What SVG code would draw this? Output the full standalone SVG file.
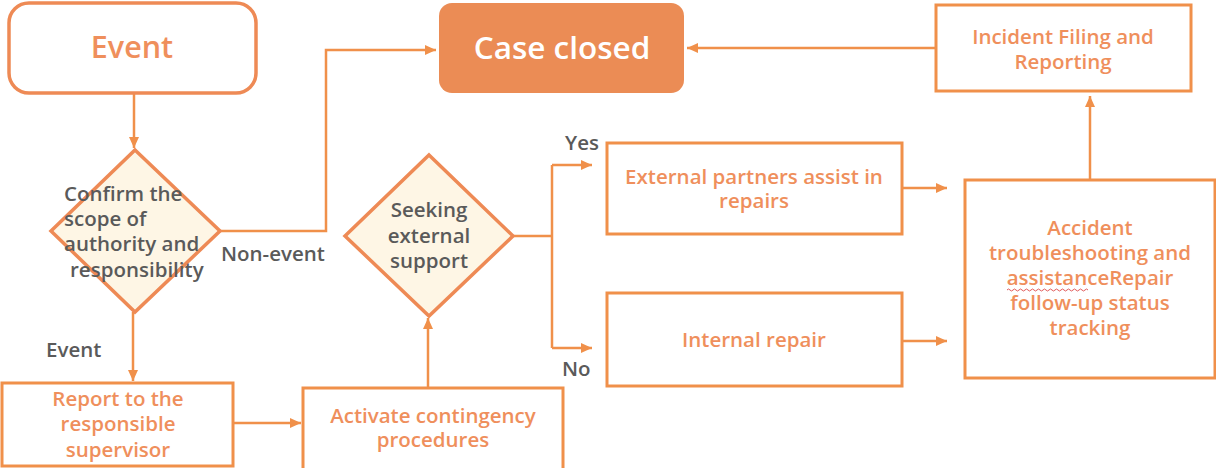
<svg xmlns="http://www.w3.org/2000/svg" width="1216" height="468" viewBox="0 0 1216 468">
<style>
.box{fill:#fff;stroke:#F0904A;stroke-width:3}
.dia{fill:#FEF6E5;stroke:#EE8A55;stroke-width:3.5}
.t{font-family:"Open Sans","Noto Sans",sans-serif;font-size:20.5px;font-weight:600;fill:#EF8F5C;text-anchor:middle}
.g{font-family:"Open Sans","Noto Sans",sans-serif;font-size:20.5px;font-weight:600;fill:#5A5A5A}
.c{fill:none;stroke:#F0904A;stroke-width:2.5}
</style>
<defs>
<marker id="ah" markerUnits="userSpaceOnUse" markerWidth="12" markerHeight="10" refX="11" refY="5" orient="auto">
<path d="M0,0 L11,5 L0,10 Z" fill="#F0904A"/>
</marker>
</defs>
<rect width="1216" height="468" fill="#fff"/>
<g id="connectors">
<path class="c" d="M134,92 V148" marker-end="url(#ah)"/>
<path class="c" d="M220,231 H326 V50 H436" marker-end="url(#ah)"/>
<path class="c" d="M133,312 V381" marker-end="url(#ah)"/>
<path class="c" d="M233,423 H301" marker-end="url(#ah)"/>
<path class="c" d="M428,388 V318" marker-end="url(#ah)"/>
<path class="c" d="M513,236 H552"/>
<path class="c" d="M552,165 V348"/>
<path class="c" d="M552,165 H592" marker-end="url(#ah)"/>
<path class="c" d="M552,348 H592" marker-end="url(#ah)"/>
<path class="c" d="M902,188 H947" marker-end="url(#ah)"/>
<path class="c" d="M902,341 H947" marker-end="url(#ah)"/>
<path class="c" d="M1090,180 V96" marker-end="url(#ah)"/>
<path class="c" d="M936,48 H687" marker-end="url(#ah)"/>
<text class="g" x="221" y="261">Non-event</text>
<text class="g" x="46" y="357">Event</text>
<text class="g" x="565" y="150">Yes</text>
<text class="g" x="562" y="376">No</text>
</g>
<g id="event">
<rect x="9" y="3" width="247" height="90" rx="20" fill="#fff" stroke="#EE8A55" stroke-width="3.5"/>
<text x="132" y="58" font-family="'Open Sans','Noto Sans',sans-serif" font-size="30.5" font-weight="600" fill="#EF8F5C" text-anchor="middle">Event</text>
</g>
<g id="case-closed">
<rect x="439" y="3" width="245" height="90" rx="13" fill="#EB8C55"/>
<text x="562" y="59" font-family="'Open Sans','Noto Sans',sans-serif" font-size="31.5" font-weight="600" fill="#fff" text-anchor="middle">Case closed</text>
</g>
<g id="confirm-scope">
<polygon class="dia" points="135,150 220,231 135,312 51,231"/>
<text class="g"><tspan x="64" y="201">Confirm the</tspan><tspan x="64" y="226">scope of</tspan><tspan x="64" y="251">authority and</tspan><tspan x="70" y="277">responsibility</tspan></text>
</g>
<g id="report-supervisor">
<rect class="box" x="2" y="383" width="231" height="83"/>
<text class="t"><tspan x="118" y="406">Report to the</tspan><tspan x="118" y="431">responsible</tspan><tspan x="118" y="457">supervisor</tspan></text>
</g>
<g id="activate-contingency">
<rect class="box" x="303" y="388" width="260" height="82"/>
<text class="t"><tspan x="433" y="423">Activate contingency</tspan><tspan x="433" y="447">procedures</tspan></text>
</g>
<g id="seeking-support">
<polygon class="dia" points="429,155 513,236 429,316 345,236"/>
<text class="g" text-anchor="middle"><tspan x="429" y="217">Seeking</tspan><tspan x="429" y="243">external</tspan><tspan x="429" y="268">support</tspan></text>
</g>
<g id="external-partners">
<rect class="box" x="607" y="143" width="295" height="91"/>
<text class="t"><tspan x="754" y="184">External partners assist in</tspan><tspan x="754" y="208">repairs</tspan></text>
</g>
<g id="internal-repair">
<rect class="box" x="607" y="293" width="295" height="93"/>
<text class="t" x="754" y="347">Internal repair</text>
</g>
<g id="accident-tracking">
<rect class="box" x="965" y="180" width="250" height="198"/>
<text class="t"><tspan x="1090" y="235">Accident</tspan><tspan x="1090" y="260">troubleshooting and</tspan><tspan x="1090" y="285">assistanceRepair</tspan><tspan x="1090" y="310">follow-up status</tspan><tspan x="1090" y="335">tracking</tspan></text>
<path d="M1007,290 q1.5,-2 3,0 t3,0 t3,0 t3,0 t3,0 t3,0 t3,0 t3,0 t3,0 t3,0 t3,0 t3,0 t3,0 t3,0 t3,0 t3,0 t3,0 t3,0 t3,0 t3,0 t3,0 t3,0 t3,0 t3,0 t3,0 t3,0 t3,0" fill="none" stroke="#E05A5A" stroke-width="1"/>
</g>
<g id="incident-filing">
<rect class="box" x="936" y="5" width="255" height="86"/>
<text class="t"><tspan x="1063" y="44">Incident Filing and</tspan><tspan x="1063" y="69">Reporting</tspan></text>
</g>
</svg>
